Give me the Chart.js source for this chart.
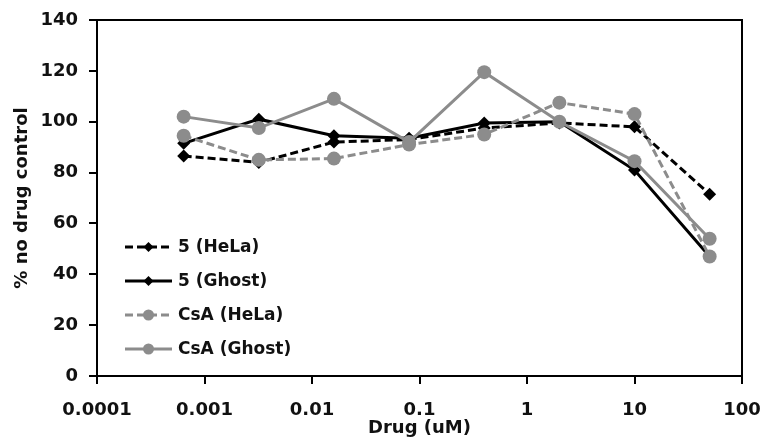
<!DOCTYPE html>
<html>
<head>
<meta charset="utf-8">
<script src="https://cdn.jsdelivr.net/npm/chart.js@4"></script>
<style>
  html, body { margin: 0; padding: 0; background: #fff; }
  #wrap { width: 767px; height: 439px; }
</style>
</head>
<body>
<div id="wrap"><canvas id="c" width="767" height="439"></canvas></div>
<script>
// ---- data ----
const drugConc = [0.00064, 0.0032, 0.016, 0.08, 0.4, 2, 10, 50];
const seriesNames = ["5 (HeLa)", "5 (Ghost)", "CsA (HeLa)", "CsA (Ghost)"];
const five_HeLa  = [86.5, 84, 92, 93, 97.5, 99.5, 98, 71.5];
const five_Ghost = [91.5, 101, 94.5, 93.5, 99.5, 100, 81, 47];
const csa_HeLa   = [94.5, 85, 85.5, 91, 95, 107.5, 103, 47];
const csa_Ghost  = [102, 97.5, 109, 92, 119.5, 100, 84.5, 54];
const xTicks = [0.0001, 0.001, 0.01, 0.1, 1, 10, 100];
const xTickLabels = ["0.0001", "0.001", "0.01", "0.1", "1", "10", "100"];
const yTicks = [0, 20, 40, 60, 80, 100, 120, 140];

const BLACK = '#000000';
const GRAY = '#8c8c8c';
const FONT = "'DejaVu Sans', Verdana, sans-serif";

function pts(vals) { return drugConc.map((x, i) => ({ x: x, y: vals[i] })); }

const datasets = [
  { label: seriesNames[0], data: pts(five_HeLa), borderColor: BLACK, backgroundColor: BLACK,
    borderDash: [8, 4], pointStyle: 'rectRot', pointRadius: 6.5, order: 4 },
  { label: seriesNames[1], data: pts(five_Ghost), borderColor: BLACK, backgroundColor: BLACK,
    borderDash: [], pointStyle: 'rectRot', pointRadius: 6.5, order: 3 },
  { label: seriesNames[2], data: pts(csa_HeLa), borderColor: GRAY, backgroundColor: GRAY,
    borderDash: [8, 4], pointStyle: 'circle', pointRadius: 7, order: 2 },
  { label: seriesNames[3], data: pts(csa_Ghost), borderColor: GRAY, backgroundColor: GRAY,
    borderDash: [], pointStyle: 'circle', pointRadius: 7, order: 1 }
].map(d => Object.assign({ borderWidth: 3, pointBorderWidth: 0, tension: 0, fill: false,
  pointHoverRadius: d.pointRadius }, d));

const framePlugin = {
  id: 'frame',
  afterDraw(chart) {
    const { ctx, chartArea: a } = chart;
    ctx.save();
    ctx.strokeStyle = '#000';
    ctx.lineWidth = 2;
    ctx.beginPath();
    ctx.moveTo(a.left, a.top);
    ctx.lineTo(a.right, a.top);
    ctx.lineTo(a.right, a.bottom);
    ctx.stroke();
    ctx.restore();
  }
};

const legendPlugin = {
  id: 'innerLegend',
  afterDraw(chart) {
    const { ctx, chartArea: a } = chart;
    ctx.save();
    chart.data.datasets.forEach((ds, i) => {
      const y = 247 + i * 34;
      const x0 = a.left + 28, x1 = a.left + 75, xm = (x0 + x1) / 2;
      ctx.strokeStyle = ds.borderColor;
      ctx.lineWidth = 3;
      ctx.setLineDash(ds.borderDash || []);
      ctx.beginPath();
      ctx.moveTo(x0, y); ctx.lineTo(x1, y);
      ctx.stroke();
      ctx.setLineDash([]);
      ctx.fillStyle = ds.backgroundColor;
      ctx.beginPath();
      if (ds.pointStyle === 'rectRot') {
        const r = 5;
        ctx.moveTo(xm, y - r); ctx.lineTo(xm + r, y); ctx.lineTo(xm, y + r); ctx.lineTo(xm - r, y);
        ctx.closePath();
      } else {
        ctx.arc(xm, y, 5.5, 0, Math.PI * 2);
      }
      ctx.fill();
      ctx.fillStyle = '#111';
      ctx.font = "bold 17px " + FONT;
      ctx.textBaseline = 'middle';
      ctx.textAlign = 'left';
      ctx.fillText(ds.label, x1 + 6, y + 1);
    });
    ctx.restore();
  }
};

new Chart(document.getElementById('c'), {
  type: 'line',
  data: { datasets: datasets },
  plugins: [framePlugin, legendPlugin],
  options: {
    responsive: false,
    animation: false,
    events: [],
    layout: { padding: { left: 0, right: 25, top: 20, bottom: 0 } },
    plugins: { legend: { display: false }, tooltip: { enabled: false } },
    scales: {
      x: {
        type: 'logarithmic',
        min: 0.0001, max: 100,
        afterBuildTicks(scale) { scale.ticks = xTicks.map(v => ({ value: v })); },
        afterFit(scale) { scale.height = 63; scale.paddingLeft = 0; scale.paddingRight = 0; },
        ticks: {
          autoSkip: false, maxRotation: 0,
          color: '#111', padding: 16,
          font: { family: FONT, size: 18, weight: 'bold' },
          callback(v, i) { return xTickLabels[i]; }
        },
        grid: { display: true, drawOnChartArea: false, drawTicks: true, tickLength: 8, color: '#000', lineWidth: 2 },
        border: { display: true, color: '#000', width: 2 },
        title: { display: true, text: 'Drug (uM)', color: '#111',
          font: { family: FONT, size: 18, weight: 'bold' }, padding: { top: 0, bottom: 0 } }
      },
      y: {
        type: 'linear',
        min: 0, max: 140,
        afterBuildTicks(scale) { scale.ticks = yTicks.map(v => ({ value: v })); },
        afterFit(scale) { scale.width = 97; scale.paddingTop = 0; scale.paddingBottom = 0; },
        ticks: {
          color: '#111', padding: 11,
          font: { family: FONT, size: 18, weight: 'bold' }
        },
        grid: { display: true, drawOnChartArea: false, drawTicks: true, tickLength: 8, color: '#000', lineWidth: 2 },
        border: { display: true, color: '#000', width: 2 },
        title: { display: true, text: '% no drug control', color: '#111',
          font: { family: FONT, size: 18, weight: 'bold' }, padding: { top: 12, bottom: 0 } }
      }
    }
  }
});
</script>
</body>
</html>
